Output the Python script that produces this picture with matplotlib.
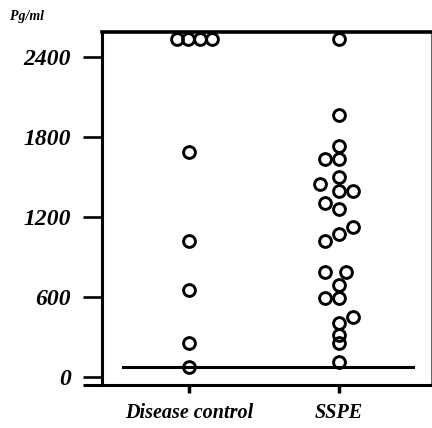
import numpy as np
import matplotlib.pyplot as plt

GROUPS = ["Disease control", "SSPE"]
CONTROL_VALUES = [2535, 2535, 2535, 2535, 1690, 1020, 655, 255, 75]
CONTROL_JITTER = [-0.08, -0.007, 0.073, 0.153, 0, 0, 0, 0, 0]
SSPE_VALUES = [2535, 1965, 1735, 1635, 1635, 1500, 1450, 1395, 1395,
               1305, 1260, 1125, 1075, 1020, 790, 790, 690, 595, 595,
               450, 405, 315, 255, 115]
SSPE_JITTER = [0, 0, 0, -0.093, 0, 0, -0.127, 0, 0.09,
               -0.093, 0, 0.09, 0, -0.093, -0.093, 0.047, 0, -0.093, 0,
               0.09, 0, 0, 0, 0]
CUTOFF = 75
Y_TICKS = [0, 600, 1200, 1800, 2400]

FONT = {"family": "Liberation Serif", "weight": "bold", "style": "italic"}

fig = plt.figure(figsize=(4.32, 4.28), dpi=100)
ax = fig.add_axes([0.236, 0.1005, 0.762, 0.8248])

marker_style = dict(marker="o", linestyle="none", markersize=8.5,
                    markerfacecolor="none", markeredgecolor="black",
                    markeredgewidth=2.1, clip_on=False)
ax.plot(np.array(CONTROL_JITTER) + 0, CONTROL_VALUES, **marker_style)
ax.plot(np.array(SSPE_JITTER) + 1, SSPE_VALUES, **marker_style)

# detection cutoff line
ax.plot([-0.44, 1.49], [CUTOFF, CUTOFF], color="black", linewidth=2.2)

ax.set_xlim(-0.58, 1.613)
ax.set_ylim(-60, 2588)

ax.set_yticks(Y_TICKS)
ax.set_yticklabels([str(t) for t in Y_TICKS], fontdict=dict(FONT, size=17))
ax.set_xticks([0, 1])
ax.set_xticklabels(GROUPS, fontdict=dict(FONT, size=14.5))
ax.tick_params(axis="y", direction="out", length=13.5, width=1.9, pad=9)
ax.tick_params(axis="x", direction="out", length=6, width=2.5, pad=7)

for side in ["left", "bottom"]:
    ax.spines[side].set_linewidth(2.2)
ax.spines["top"].set_linewidth(2.6)
ax.spines["right"].set_linewidth(0.8)
ax.spines["right"].set_color("dimgray")

# bottom axis line runs a little left of the y axis
ax.plot([-0.058, 0], [0, 0], transform=ax.transAxes, color="black",
        linewidth=2.2, clip_on=False, solid_capstyle="butt")

fig.text(0.022, 0.962, "Pg/ml", fontdict=dict(FONT, size=10), va="center")

fig.savefig("out.png", dpi=100)
